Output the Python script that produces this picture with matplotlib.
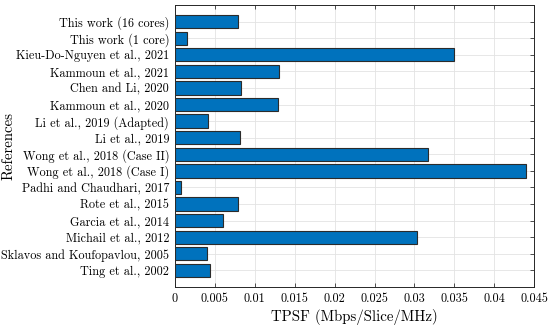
import matplotlib
matplotlib.use("Agg")
import matplotlib.pyplot as plt
from matplotlib.ticker import FuncFormatter, MultipleLocator

references = [
    "This work (16 cores)",
    "This work (1 core)",
    "Kieu-Do-Nguyen et al., 2021",
    "Kammoun et al., 2021",
    "Chen and Li, 2020",
    "Kammoun et al., 2020",
    "Li et al., 2019 (Adapted)",
    "Li et al., 2019",
    "Wong et al., 2018 (Case II)",
    "Wong et al., 2018 (Case I)",
    "Padhi and Chaudhari, 2017",
    "Rote et al., 2015",
    "Garcia et al., 2014",
    "Michail et al., 2012",
    "Sklavos and Koufopavlou, 2005",
    "Ting et al., 2002",
]
tpsf = [0.0079, 0.0016, 0.0350, 0.0131, 0.0083, 0.0129, 0.0042, 0.0082,
        0.0317, 0.0439, 0.0008, 0.0079, 0.0060, 0.0303, 0.0041, 0.0044]

plt.rcParams['font.family'] = ['cmr10', 'DejaVu Serif']
plt.rcParams['axes.formatter.use_mathtext'] = True
plt.rcParams['mathtext.fontset'] = 'cm'

fig = plt.figure(figsize=(5.5, 3.25), dpi=100)
ax = fig.add_axes([0.3176, 0.117, 0.654, 0.8676])

n = len(references)
pos = list(range(n, 0, -1))
ax.barh(pos, tpsf, height=0.8, color='#0072BD', edgecolor='#2b2b2b',
        linewidth=0.8, zorder=3)

ax.set_ylim(0, n + 1)
ax.set_xlim(0, 0.045)
ax.set_yticks(pos)
ax.set_yticklabels(references, fontsize=8.8)
ax.xaxis.set_major_locator(MultipleLocator(0.005))
ax.xaxis.set_major_formatter(FuncFormatter(lambda v, p: '%g' % round(v, 4)))
ax.tick_params(axis='x', labelsize=8.8)
ax.tick_params(direction='in', length=3, width=0.6, color='#333333',
               top=True, right=True, pad=4)
ax.grid(True, color='#e3e3e3', linewidth=0.6, zorder=0)
ax.set_axisbelow(True)
for s in ax.spines.values():
    s.set_color('#262626')
    s.set_linewidth(0.7)

ax.set_xlabel('TPSF (Mbps/Slice/MHz)', fontsize=10.7, labelpad=3)
ax.set_ylabel('References', fontsize=10.7)
ax.yaxis.set_label_coords(-0.443, 0.5)

fig.savefig('out.png', dpi=100)
